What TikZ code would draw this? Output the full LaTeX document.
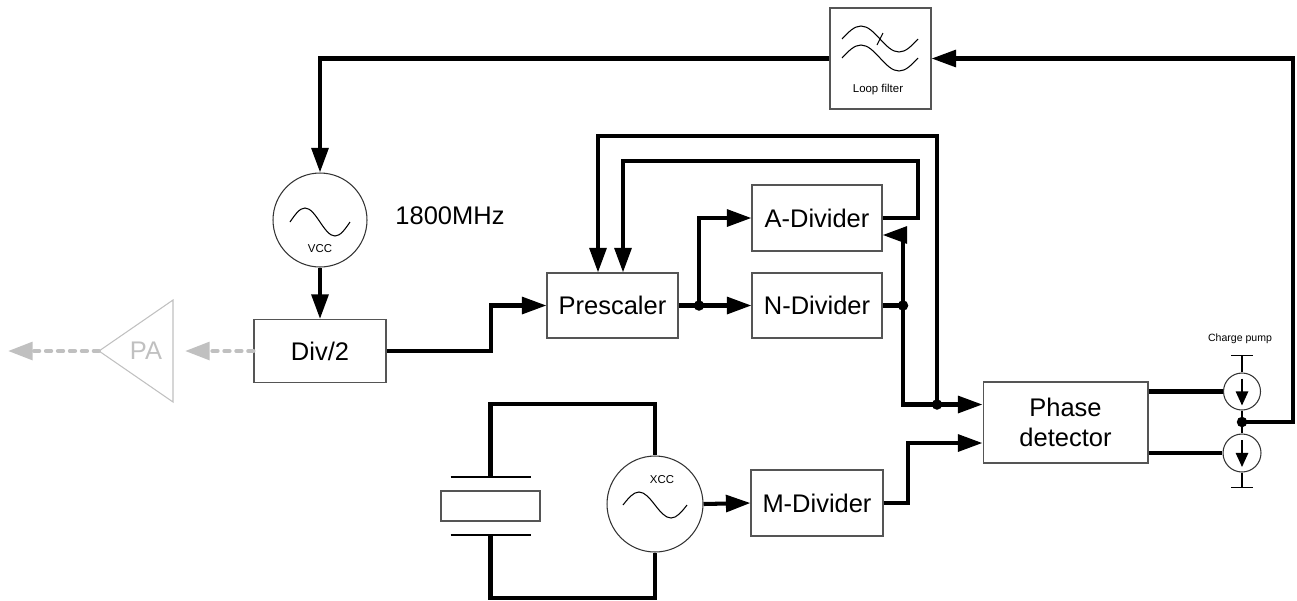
\documentclass[tikz,border=0pt]{standalone}
\usepackage{fontspec}
\setmainfont{Liberation Sans}
\usetikzlibrary{calc,positioning,arrows.meta}
\definecolor{boxgray}{HTML}{555555}
\definecolor{pagray}{HTML}{C0C0C0}
\tikzstyle{block}    = [rectangle, draw=boxgray, line width=0.6pt, inner sep=0pt, text centered, font=\fontsize{14.5}{17}\selectfont]
\tikzstyle{osc}      = [circle, draw=black!80, line width=0.6pt, inner sep=0pt]
\tikzstyle{tinytext} = [inner sep=0pt, font=\fontsize{6.5}{8}\selectfont]
\tikzstyle{wire}     = [line width=2.3pt]
\tikzstyle{arrow}    = [wire, -{Triangle[length=14pt,width=9.5pt]}]
\tikzstyle{thinline} = [line width=0.6pt]
\tikzstyle{pumpline} = [line width=1pt]
\tikzstyle{dot}      = [circle, fill=black, inner sep=0pt, minimum size=0.21cm]
\tikzstyle{paline}   = [pagray, line width=2.3pt, line cap=round, dash pattern=on 3pt off 3.8pt, -{Triangle[length=14pt,width=10pt]}]

\begin{document}
\begin{tikzpicture}[x=0.02cm, y=-0.02cm]
		\useasboundingbox (0,0) rectangle (1297,600);
		% blocks
		\node[block, minimum width=2.02cm, minimum height=2.02cm] (lf) at (880.5,58.5) {};
		\node[tinytext] (lflabel) at (878,90) {Loop filter};
		\node[osc, minimum size=1.88cm] (vcc) at (320,220) {};
		\node[tinytext] (vcclabel) at (320,249) {VCC};
		\node[block, draw=none] (freq) at (450,216) {1800MHz};
		\node[block, minimum width=2.64cm, minimum height=1.26cm] (div2) at (320,351) {Div/2};
		\node[block, minimum width=2.62cm, minimum height=1.3cm] (pre) at (612.5,305.5) {Prescaler};
		\node[block, minimum width=2.6cm, minimum height=1.32cm] (adiv) at (817,218) {A-Divider};
		\node[block, minimum width=2.6cm, minimum height=1.3cm] (ndiv) at (817,305.5) {N-Divider};
		\node[block, minimum width=2.64cm, minimum height=1.32cm] (mdiv) at (817,503) {M-Divider};
		\node[block, minimum width=3.3cm, minimum height=1.62cm, align=center] (pd) at (1065.5,422.5) {Phase\\detector};
		\node[osc, minimum size=1.92cm] (xcc) at (655,504) {};
		\node[tinytext] (xcclabel) at (662,480) {XCC};
		\node[block, minimum width=1.98cm, minimum height=0.6cm] (xtal) at (490.5,506) {};
		\node[osc, minimum size=0.74cm] (cp1) at (1242,391.5) {};
		\node[osc, minimum size=0.76cm] (cp2) at (1242,453) {};
		\node[tinytext, font=\fontsize{6}{7}\selectfont] (cplabel) at (1240,339) {Charge pump};

		% power amplifier
		\draw[pagray, line width=0.6pt] (173,300) -- (99,351) -- (173,402) -- cycle;
		\node[block, draw=none, text=pagray] (palabel) at (146,351) {PA};
		\coordinate (pain) at (173,351);
		\coordinate (patip) at (99,351);
		\coordinate (paout) at (8,351);
		\draw[paline, shorten >=0.24cm] (div2.west) -- (pain);
		\draw[paline] (patip) -- (paout);

		% filter and oscillator symbols
		\draw[thinline] ($(lf)+(-38.5,-19.5)$) sin ++(19,-13) cos ++(19,13) sin ++(19,13) cos ++(19,-13);
		\draw[thinline] ($(lf)+(-38.5,-0.5)$) sin ++(19,-13) cos ++(19,13) sin ++(19,13) cos ++(19,-13);
		\draw[thinline] ($(lf)+(-3.5,-13.5)$) -- ++(6,-12);
		\draw[thinline] ($(vcc)+(-30,2)$) sin ++(15,-14) cos ++(15,14) sin ++(15,14) cos ++(15,-14);
		\draw[thinline] ($(xcc)+(-32,1)$) sin ++(16,-13) cos ++(16,13) sin ++(16,13) cos ++(16,-13);

		% crystal
		\coordinate (ptop) at (490.5,477);
		\coordinate (pbot) at (490.5,535);
		\draw[thinline] ($(ptop)+(-40,0)$) -- ($(ptop)+(40,0)$);
		\draw[thinline] ($(pbot)+(-40,0)$) -- ($(pbot)+(40,0)$);
		\draw[wire] (ptop) -- ++(0,-73) -| (xcc.north);
		\draw[wire] (pbot) -- ++(0,63) -| (xcc.south);

		% junctions
		\coordinate (j1) at (699,305.5);
		\coordinate (j2) at (903,305.5);
		\coordinate (j3) at (937,404.5);
		\coordinate (cpj) at (1242,422);

		% main loop
		\draw[arrow] (lf.west) -| (vcc.north);
		\draw[arrow] (vcc.south) -- (div2.north);
		\draw[arrow] (div2.east) -- ++(104,0) |- (pre.west);
		\draw[arrow] (pre.east) -- (ndiv.west);
		\draw[arrow] (j1) |- (adiv.west);
		\draw[arrow] (adiv.east) -| (918,161) -| ($(pre.north)+(10.5,0)$);
		\draw[arrow] (j3) -- (937,136) -| ($(pre.north)+(-14.5,0)$);
		\draw[arrow] (j2) |- ($(adiv.east)+(0,17)$);
		\draw[arrow] (ndiv.east) -- (j2) |- ($(pd.west)+(0,-18)$);
		\draw[arrow] (xcc.east) -- (mdiv.west);
		\draw[arrow] (mdiv.east) -- ++(24,0) |- ($(pd.west)+(0,20.5)$);

		% charge pump
		\draw[wire] (pd.east |- cp1.west) -- (cp1.west);
		\draw[wire] (pd.east |- cp2.west) -- (cp2.west);
		\draw[pumpline] (cp1.north) -- ++(0,-17) coordinate (cptop);
		\draw[pumpline] ($(cptop)+(-11,0)$) -- ($(cptop)+(11,0)$);
		\draw[pumpline] (cp2.south) -- ++(0,15) coordinate (cpbot);
		\draw[pumpline] ($(cpbot)+(-11,0)$) -- ($(cpbot)+(11,0)$);
		\draw[pumpline] (cp1.south) -- (cp2.north);
		\draw[pumpline, -{Triangle[length=8pt,width=7pt]}] ($(cp1)+(0,-13)$) -- ($(cp1)+(0,14)$);
		\draw[pumpline, -{Triangle[length=8pt,width=7pt]}] ($(cp2)+(0,-13)$) -- ($(cp2)+(0,14)$);
		\draw[arrow] (cpj) -| ($(lf.east)+(361,0)$) -- (lf.east);

		% dots
		\node[dot] (j1dot) at (j1) {};
		\node[dot] (j2dot) at (j2) {};
		\node[dot] (j3dot) at (j3) {};
		\node[dot] (cpjdot) at (cpj) {};
	\end{tikzpicture}
\end{document}
